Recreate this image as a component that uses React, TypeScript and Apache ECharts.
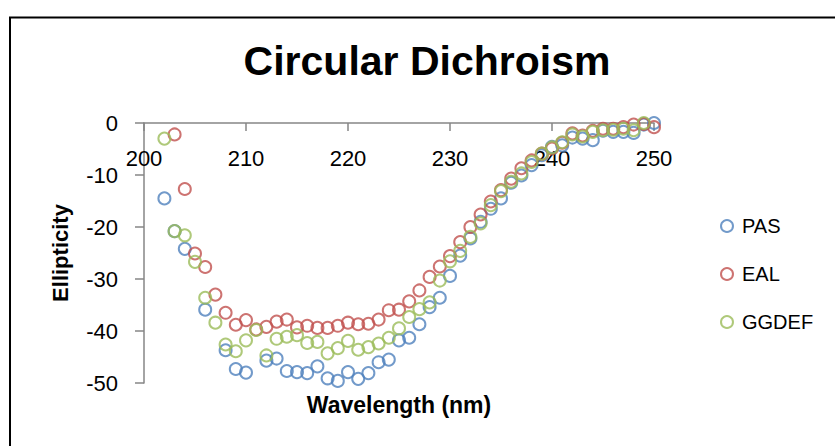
import React, { useEffect, useRef } from "react";
import * as echarts from "echarts";

const wavelengthsPAS = [202, 203, 204, 206, 208, 209, 210, 212, 213, 214, 215, 216, 217, 218, 219, 220, 221, 222, 223, 224, 225, 226, 227, 228, 229, 230, 231, 232, 233, 234, 235, 236, 237, 238, 239, 240, 241, 242, 243, 244, 245, 246, 247, 248, 249, 250];
const valuesPAS = [-14.5, -20.8, -24.2, -35.9, -43.7, -47.3, -48.0, -45.7, -45.3, -47.7, -47.9, -48.1, -46.8, -49.1, -49.6, -47.9, -49.2, -48.1, -46.0, -45.5, -41.8, -41.3, -38.7, -35.4, -33.6, -29.4, -25.5, -22.2, -19.0, -16.5, -14.5, -11.5, -10.1, -8.1, -6.2, -4.6, -4.3, -2.8, -3.0, -3.3, -1.5, -1.7, -1.7, -1.9, -0.3, 0.0];

const wavelengthsEAL = [203, 204, 205, 206, 207, 208, 209, 210, 211, 212, 213, 214, 215, 216, 217, 218, 219, 220, 221, 222, 223, 224, 225, 226, 227, 228, 229, 230, 231, 232, 233, 234, 235, 236, 237, 238, 239, 240, 241, 242, 243, 244, 245, 246, 247, 248, 249, 250];
const valuesEAL = [-2.2, -12.7, -25.1, -27.7, -33.0, -36.5, -38.8, -37.9, -39.7, -39.2, -38.2, -37.8, -39.3, -39.0, -39.4, -39.4, -39.0, -38.4, -38.7, -38.6, -37.8, -36.0, -35.9, -34.3, -32.2, -29.6, -27.6, -25.6, -22.9, -20.0, -17.6, -15.1, -12.9, -10.7, -8.7, -7.2, -5.9, -4.9, -3.8, -2.0, -2.4, -1.5, -1.1, -1.1, -0.8, -0.3, -0.2, -0.8];

const wavelengthsGGDEF = [202, 203, 204, 205, 206, 207, 208, 209, 210, 211, 212, 213, 214, 215, 216, 217, 218, 219, 220, 221, 222, 223, 224, 225, 226, 227, 228, 229, 230, 231, 232, 233, 234, 235, 236, 237, 238, 239, 240, 241, 242, 243, 244, 245, 246, 247, 248, 249];
const valuesGGDEF = [-3.0, -20.8, -21.6, -26.7, -33.6, -38.4, -42.6, -43.9, -41.8, -39.8, -44.7, -41.5, -41.1, -40.8, -42.3, -42.1, -44.3, -43.3, -41.9, -43.6, -43.1, -42.4, -41.3, -39.5, -37.3, -35.8, -34.5, -30.3, -26.6, -24.6, -21.9, -19.3, -15.8, -13.1, -11.3, -9.7, -7.5, -5.9, -4.7, -3.7, -2.2, -2.6, -1.7, -1.4, -1.3, -1.1, -1.4, 0.0];

const seriesNames = ["PAS", "EAL", "GGDEF"];
const seriesColors = ["#4F81BD", "#C0504D", "#9BBB59"];
const xTicks = { min: 200, max: 250, interval: 10 };
const yTicks = { min: -50, max: 0, interval: 10 };

const FONT = "'Liberation Sans', Arial, sans-serif";

function pairs(xs: number[], ys: number[]) {
  return xs.map((x, i) => [x, ys[i]]);
}

export default function App() {
  const ref = useRef<HTMLDivElement>(null);
  useEffect(() => {
    if (!ref.current) return;
    const chart = echarts.init(ref.current, undefined, { renderer: "svg" });
    const datasets = [
      pairs(wavelengthsPAS, valuesPAS),
      pairs(wavelengthsEAL, valuesEAL),
      pairs(wavelengthsGGDEF, valuesGGDEF),
    ];
    chart.setOption({
      animation: false,
      backgroundColor: "#ffffff",
      textStyle: { fontFamily: FONT },
      grid: { left: 144, top: 123, width: 510, height: 260 },
      xAxis: {
        type: "value",
        position: "top",
        min: xTicks.min,
        max: xTicks.max,
        interval: xTicks.interval,
        axisLine: { show: true, onZero: false, lineStyle: { color: "#868686", width: 1.5 } },
        axisTick: { show: true, inside: true, length: 8, lineStyle: { color: "#868686", width: 1.5 } },
        axisLabel: { inside: true, color: "#000", fontSize: 22, fontFamily: FONT, margin: 24 },
        splitLine: { show: false },
      },
      yAxis: {
        type: "value",
        min: yTicks.min,
        max: yTicks.max,
        interval: yTicks.interval,
        axisLine: { show: true, lineStyle: { color: "#868686", width: 1.5 } },
        axisTick: { show: true, inside: false, length: 9, lineStyle: { color: "#868686", width: 1.5 } },
        axisLabel: { color: "#000", fontSize: 22, fontFamily: FONT, margin: 26 },
        splitLine: { show: false },
      },
      legend: {
        orient: "vertical",
        left: 715,
        top: 211,
        itemWidth: 12,
        itemHeight: 12,
        itemGap: 28,
        textStyle: { fontSize: 20, color: "#000", fontFamily: FONT, padding: [0, 0, 0, 4] },
        data: seriesNames.map((n, i) => ({
          name: n,
          icon: "circle",
          itemStyle: { color: "#ffffff", borderColor: seriesColors[i], borderWidth: 2 },
        })),
      },
      series: seriesNames.map((n, i) => ({
        name: n,
        type: "scatter",
        symbol: "circle",
        symbolSize: 12,
        data: datasets[i],
        itemStyle: { color: "rgba(255,255,255,0)", borderColor: seriesColors[i], borderWidth: 2 },
      })),
      graphic: [
        {
          type: "rect",
          shape: { x: 10, y: 17.5, width: 1000, height: 600 },
          style: { fill: "none", stroke: "#000", lineWidth: 2 },
          silent: true,
        },
        {
          type: "text",
          x: 427,
          y: 61,
          style: {
            text: "Circular Dichroism",
            font: `bold 41px ${FONT}`,
            fill: "#000",
            textAlign: "center",
            textVerticalAlign: "middle",
          },
        },
        {
          type: "text",
          x: 399,
          y: 405,
          style: {
            text: "Wavelength (nm)",
            font: `bold 23px ${FONT}`,
            fill: "#000",
            textAlign: "center",
            textVerticalAlign: "middle",
          },
        },
        {
          type: "text",
          x: 60,
          y: 253,
          rotation: Math.PI / 2,
          style: {
            text: "Ellipticity",
            font: `bold 22px ${FONT}`,
            fill: "#000",
            textAlign: "center",
            textVerticalAlign: "middle",
          },
        },
      ],
    });
    return () => chart.dispose();
  }, []);
  return (
    <div
      ref={ref}
      style={{ position: "fixed", left: 0, top: 0, width: 835, height: 446, background: "#fff" }}
    />
  );
}
